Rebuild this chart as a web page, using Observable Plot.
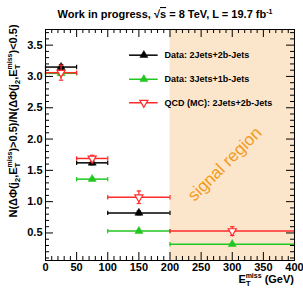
<!DOCTYPE html>
<html><head><meta charset="utf-8">
<script src="https://cdn.jsdelivr.net/npm/d3@7"></script>
<script src="https://cdn.jsdelivr.net/npm/@observablehq/plot@0.6"></script>
<style>body{margin:0;background:#fff}#chart svg{display:block}</style>
</head><body><div id="chart"></div>
<script>
// ---- data ----
const binLo = [0, 50, 100, 200];
const binHi = [50, 100, 200, 400];
const blackY = [3.15, 1.62, 0.82];
const blackErr = [0.04, 0.03, 0.03];
const greenY = [3.05, 1.36, 0.53, 0.32];
const greenErr = [0.02, 0.015, 0.015, 0.012];
const redY = [3.06, 1.69, 1.07, 0.53];
const redErr = [0.12, 0.05, 0.10, 0.07];
const seriesNames = ["Data: 2Jets+2b-Jets", "Data: 3Jets+1b-Jets", "QCD (MC): 2Jets+2b-Jets"];
const signalRegion = [200, 400];
const signalLabel = "signal region";
const xTicks = [0, 50, 100, 150, 200, 250, 300, 350, 400];
const yTicks = [0.5, 1, 1.5, 2, 2.5, 3, 3.5];
const xDomain = [0, 400];
const yDomain = [0.06, 3.75];

// ---- layout ----
const W = 303, H = 288;
const mL = 45, mR = 9, mT = 29, mB = 28;
const fW = W - mL - mR, fH = H - mT - mB;
const BLACK = "#000", GREEN = "#22c622", RED = "#ff2a2a", ORANGE = "#f39a1c", SHADE = "#fce6cb";

const rows = (ys, errs) => ys.map((y, i) => ({lo: binLo[i], hi: binHi[i], mid: (binLo[i] + binHi[i]) / 2, y, err: errs[i]}));
const black = rows(blackY, blackErr), green = rows(greenY, greenErr), red = rows(redY, redErr);

const vbar = {draw(c, s) { const r = Math.sqrt(s / Math.PI); c.moveTo(0, -r); c.lineTo(0, r); }};
const hbar = {draw(c, s) { const r = Math.sqrt(s / Math.PI); c.moveTo(-r, 0); c.lineTo(r, 0); }};

function seriesMarks(data, color, symbolOpts) {
  const xcaps = data.flatMap(d => [{x: d.lo, y: d.y}, {x: d.hi, y: d.y}]);
  const ycaps = data.flatMap(d => [{x: d.mid, y: d.y - d.err}, {x: d.mid, y: d.y + d.err}]);
  return [
    Plot.ruleY(data, {y: "y", x1: "lo", x2: "hi", stroke: color, strokeWidth: 1.5}),
    Plot.dot(xcaps, {x: "x", y: "y", symbol: vbar, r: 2.2, stroke: color, strokeWidth: 1.2, fill: "none"}),
    Plot.ruleX(data, {x: "mid", y1: d => d.y - d.err, y2: d => d.y + d.err, stroke: color, strokeWidth: 1.2}),
    Plot.dot(ycaps, {x: "x", y: "y", symbol: hbar, r: 2.2, stroke: color, strokeWidth: 1.2, fill: "none"}),
    Plot.dot(data, {x: "mid", y: "y", ...symbolOpts})
  ];
}

const blackSym = {symbol: "triangle", r: 3, fill: BLACK, stroke: BLACK, strokeWidth: 0.5};
const greenSym = {symbol: "triangle", r: 3, fill: GREEN, stroke: GREEN, strokeWidth: 0.5};
const redSym = {symbol: "triangle", r: 3, rotate: 180, fill: "white", stroke: RED, strokeWidth: 1.2};

// legend rows (in data coordinates)
const legend = [
  {name: seriesNames[0], y: 3.34, color: BLACK, sym: blackSym},
  {name: seriesNames[1], y: 2.955, color: GREEN, sym: greenSym},
  {name: seriesNames[2], y: 2.58, color: RED, sym: redSym}
];
const legX1 = 135, legX2 = 181, legXm = 158, legXt = 191;

const xMinor = d3.range(10, 400, 10).filter(v => v % 50 !== 0);
const yMinor = d3.range(1, 38).map(v => v / 10).filter(v => Math.abs(v * 2 - Math.round(v * 2)) > 1e-6);

const plot = Plot.plot({
  width: W, height: H,
  marginLeft: mL, marginRight: mR, marginTop: mT, marginBottom: mB,
  style: {fontFamily: "'Liberation Sans', Arial, sans-serif", fontSize: "11px", fontWeight: "bold", background: "white", color: "black"},
  x: {domain: xDomain, label: null},
  y: {domain: yDomain, label: null},
  marks: [
    Plot.rect([signalRegion], {x1: d => d[0], x2: d => d[1], fill: SHADE}),
    Plot.text([signalLabel], {x: 288, y: 1.6, text: d => d, rotate: -45, fontSize: 17, fontWeight: "normal", fill: ORANGE, textAnchor: "middle"}),
    // axes labels
    Plot.axisX(xTicks, {tickSize: 0, tickPadding: 3, fontSize: 11, fontWeight: "bold", label: null}),
    Plot.axisY(yTicks, {tickSize: 0, tickPadding: 3, fontSize: 11, fontWeight: "bold", label: null}),
    // inward ticks: left/right
    Plot.tickY(yTicks, {y: d => d, insetRight: fW - 8, stroke: BLACK}),
    Plot.tickY(yMinor, {y: d => d, insetRight: fW - 4, stroke: BLACK}),
    Plot.tickY(yTicks, {y: d => d, insetLeft: fW - 8, stroke: BLACK}),
    Plot.tickY(yMinor, {y: d => d, insetLeft: fW - 4, stroke: BLACK}),
    // inward ticks: bottom/top
    Plot.tickX(xTicks, {x: d => d, insetTop: fH - 8, stroke: BLACK}),
    Plot.tickX(xMinor, {x: d => d, insetTop: fH - 4, stroke: BLACK}),
    Plot.tickX(xTicks, {x: d => d, insetBottom: fH - 8, stroke: BLACK}),
    Plot.tickX(xMinor, {x: d => d, insetBottom: fH - 4, stroke: BLACK}),
    // series
    ...seriesMarks(green, GREEN, greenSym),
    ...seriesMarks(black, BLACK, blackSym),
    ...seriesMarks(red, RED, redSym),
    // legend
    Plot.ruleY(legend, {y: "y", x1: legX1, x2: legX2, stroke: "color", strokeWidth: 1.5}),
    ...legend.map(l => Plot.dot([l], {x: legXm, y: "y", ...l.sym})),
    Plot.text(legend, {x: legXt, y: "y", text: "name", textAnchor: "start", fontSize: 9, fontWeight: "bold", fill: BLACK}),
    Plot.frame({stroke: BLACK, strokeWidth: 1})
  ]
});

// ---- rich-text labels (sub/superscripts) ----
const svg = d3.select(plot);
function rich(g, parts) {
  for (const p of parts) {
    const ts = g.append("tspan").text(p.t);
    if (p.fs) ts.attr("font-size", p.fs);
    if (p.dy) ts.attr("dy", p.dy);
    if (p.dx) ts.attr("dx", p.dx);
    if (p.deco) ts.attr("text-decoration", p.deco);
  }
}
const etmiss = [{t: "E"}, {t: "T", fs: 8, dy: 3}, {t: "miss", fs: 7, dx: -5, dy: -8}];
const back = 5;

const title = svg.append("text").attr("x", 165).attr("y", 18).attr("text-anchor", "middle")
  .attr("font-size", 11).attr("font-weight", "bold").attr("fill", BLACK);
rich(title, [{t: "Work in progress, √"}, {t: "s", deco: "overline"}, {t: " = 8 TeV, L = 19.7 fb"}, {t: "-1", fs: 7, dy: -4}]);

const ylab = svg.append("text").attr("transform", "translate(17,121) rotate(-90)").attr("text-anchor", "middle")
  .attr("font-size", 11).attr("font-weight", "bold").attr("fill", BLACK);
rich(ylab, [
  {t: "N(ΔΦ(j"}, {t: "2", fs: 8, dy: 3}, {t: ",", dy: -3}, ...etmiss, {t: ")>0.5)/N(ΔΦ(j", dy: back},
  {t: "2", fs: 8, dy: 3}, {t: ",", dy: -3}, ...etmiss, {t: ")<0.5)", dy: back}
]);

const xlab = svg.append("text").attr("x", 294).attr("y", 283).attr("text-anchor", "end")
  .attr("font-size", 11).attr("font-weight", "bold").attr("fill", BLACK);
rich(xlab, [...etmiss, {t: " (GeV)", dy: back}]);

document.getElementById("chart").appendChild(plot);
</script>
</body></html>
